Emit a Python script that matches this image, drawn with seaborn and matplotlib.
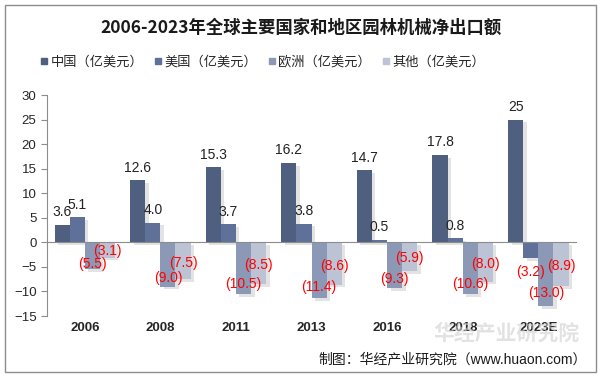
import numpy as np
import pandas as pd
import seaborn as sns
import matplotlib
matplotlib.use("Agg")
from matplotlib import pyplot as plt
from matplotlib import patheffects
from matplotlib.lines import Line2D
from matplotlib.patches import Rectangle

# ---------------------------------------------------------------------------
# Data (亿美元)
# ---------------------------------------------------------------------------
years = ["2006", "2008", "2011", "2013", "2016", "2018", "2023E"]
series = ["中国（亿美元）", "美国（亿美元）", "欧洲（亿美元）", "其他（亿美元）"]
china = [3.6, 12.6, 15.3, 16.2, 14.7, 17.8, 25]
usa = [5.1, 4.0, 3.7, 3.8, 0.5, 0.8, -3.2]
europe = [-5.5, -9.0, -10.5, -11.4, -9.3, -10.6, -13.0]
other = [-3.1, -7.5, -8.5, -8.6, -5.9, -8.0, -8.9]
label_text = [
    ["3.6", "12.6", "15.3", "16.2", "14.7", "17.8", "25"],
    ["5.1", "4.0", "3.7", "3.8", "0.5", "0.8", "(3.2)"],
    ["(5.5)", "(9.0)", "(10.5)", "(11.4)", "(9.3)", "(10.6)", "(13.0)"],
    ["(3.1)", "(7.5)", "(8.5)", "(8.6)", "(5.9)", "(8.0)", "(8.9)"],
]

colors = ["#4f5f80", "#5f7199", "#8b99b6", "#bcc3d4"]

df = pd.DataFrame({
    "year": years * 4,
    "value": china + usa + europe + other,
    "series": [s for s in series for _ in years],
})

# ---------------------------------------------------------------------------
sns.set_style("white")
plt.rcParams["font.family"] = ["Liberation Sans", "Noto Sans CJK SC", "DejaVu Sans"]

fig = plt.figure(figsize=(6.02, 3.80), dpi=100)
ax = fig.add_axes([0.078, 0.1684, 0.879, 0.5816])

sns.barplot(data=df, x="year", y="value", hue="series", palette=colors,
            width=0.8, saturation=1, legend=False, ax=ax)

shadow = [patheffects.SimplePatchShadow(offset=(2.5, -2), shadow_rgbFace="#777777", alpha=0.2),
          patheffects.Normal()]

# etiquetas: positivos acima, negativos em vermelho
neg_frac = [1.0, 1.9, 0.8, 0.55]
for i, cont in enumerate(ax.containers):
    for j, bar in enumerate(cont):
        bar.set_path_effects(shadow)
        bar.set_edgecolor("none")
        v = bar.get_height()
        xc = bar.get_x() + bar.get_width() / 2
        if v >= 0:
            ax.annotate(label_text[i][j], (xc, v), xytext=(0, 4), textcoords="offset points",
                        ha="center", va="bottom", fontsize=10, color="#222222")
        else:
            ax.text(xc, v * neg_frac[i], label_text[i][j], ha="center", va="center",
                    fontsize=10, color="#ff0000", zorder=5)

ax.set_ylim(-15, 30)
ax.set_xlim(-0.5, len(years) - 0.5)
ax.set_yticks(np.arange(-15, 31, 5))
ax.set_xlabel("")
ax.set_ylabel("")

for s in ["top", "right"]:
    ax.spines[s].set_visible(False)
ax.spines["left"].set_color("#8c8c8c")
ax.spines["bottom"].set_position(("data", 0))
ax.spines["bottom"].set_color("#8c8c8c")

ax.set_xticks(np.arange(-0.5, len(years)), minor=True)
ax.tick_params(axis="x", which="minor", length=4, color="#8c8c8c", direction="out")
ax.tick_params(axis="x", which="major", length=0, pad=57, labelsize=9.5)
for t in ax.get_xticklabels():
    t.set_fontweight("bold")
    t.set_color("#262626")
ax.tick_params(axis="y", length=4, color="#8c8c8c", labelsize=9.5, labelcolor="#262626", left=True)

# legenda
handles = [Line2D([], [], marker="s", linestyle="", markersize=5, color=c) for c in colors]
fig.legend(handles, series, loc="center", bbox_to_anchor=(0.435, 1 - 62 / 380), ncol=4,
           frameon=False, fontsize=9.5, handletextpad=0.1, columnspacing=0.7, handlelength=0.8)

fig.text(0.5, 1 - 28 / 380, "2006-2023年全球主要国家和地区园林机械净出口额", ha="center", va="center",
         fontsize=12.5, fontweight="bold", family=["Noto Sans CJK SC"], color="#1a1a1a")

# marca d'agua + fonte
fig.text(0.962, 1 - 333 / 380, "华经产业研究院", ha="right", va="center", fontsize=15,
         fontweight="bold", color="#d0d0d0", alpha=0.6, family=["Noto Sans CJK SC"], zorder=0)
fig.text(0.975, 1 - 359 / 380, "制图：华经产业研究院（www.huaon.com）", ha="right", va="center",
         fontsize=10, color="#1a1a1a")

fig.patches.append(Rectangle((0.0083, 0.021), 0.982, 0.966, transform=fig.transFigure,
                             fill=False, edgecolor="#8c8c8c", linewidth=1))

fig.savefig("out.png", dpi=100)
